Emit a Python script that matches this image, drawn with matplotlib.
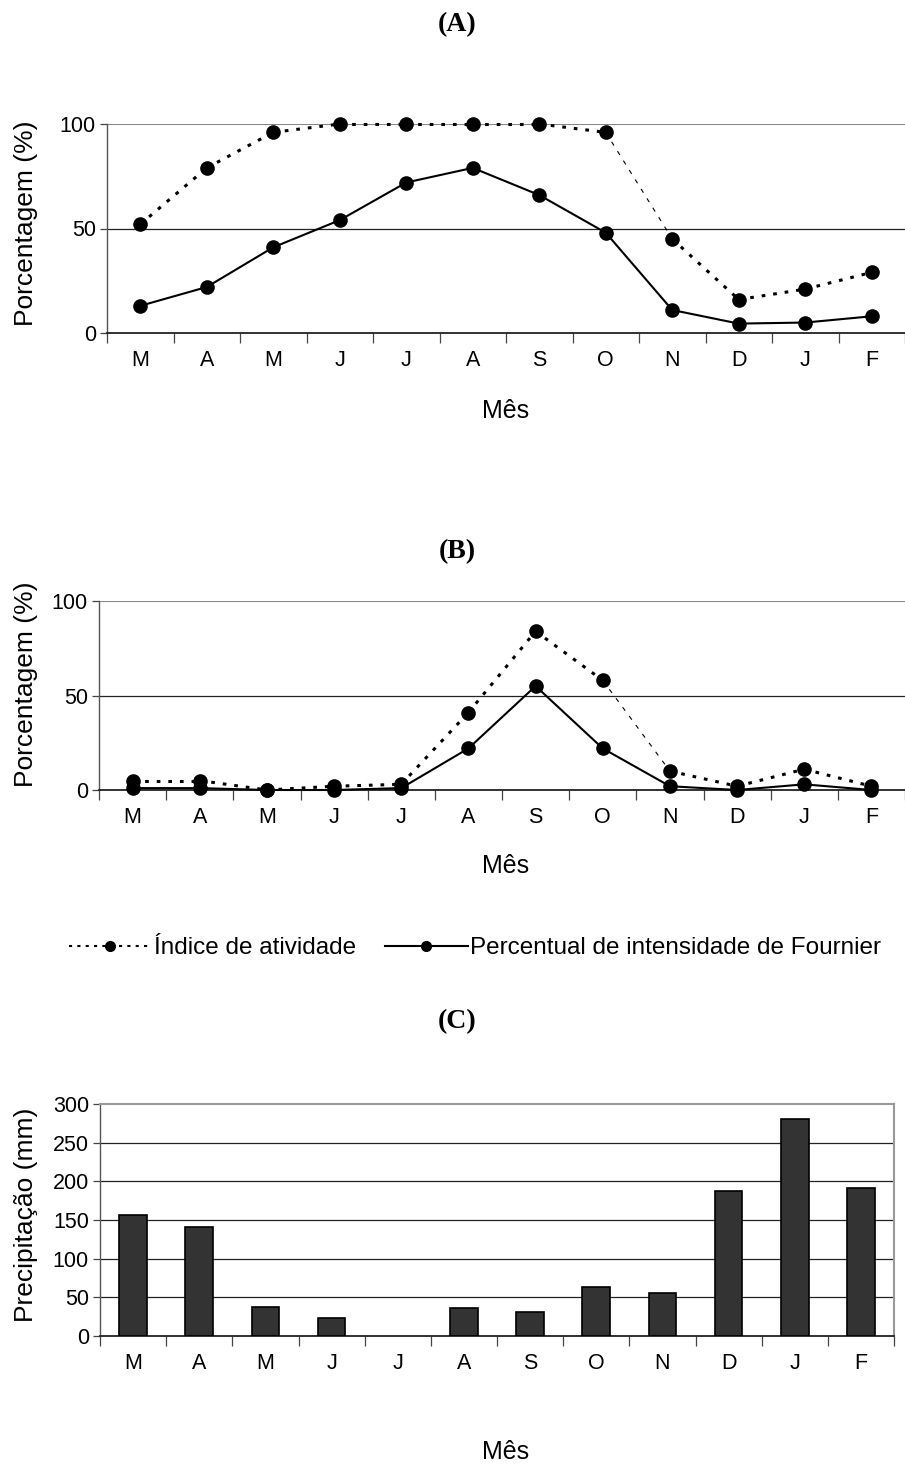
import matplotlib
matplotlib.use("Agg")
import matplotlib.pyplot as plt
from matplotlib.lines import Line2D

plt.rcParams['font.family'] = ['Liberation Sans', 'DejaVu Sans']

# ---- data ----
meses = ["M", "A", "M", "J", "J", "A", "S", "O", "N", "D", "J", "F"]

# (A)
indice_a = [52, 79, 96, 100, 100, 100, 100, 96, 45, 16, 21, 29]
fournier_a = [13, 22, 41, 54, 72, 79, 66, 48, 11, 4.5, 5, 8]

# (B)
indice_b = [5, 5, 0, 2, 3, 41, 84, 58, 10, 2, 11, 2]
fournier_b = [1, 1, 0, 0, 1, 22, 55, 22, 2, 0, 3, 0]

# (C)
precipitacao = [156, 141, 38, 23, 0, 36, 31, 63, 56, 187, 280, 192]

W, H = 905, 1466
fig = plt.figure(figsize=(W / 100, H / 100), dpi=100)

TICK_FS = 15.5
LABEL_FS = 19
MES_FS = 18
TITLE_FS = 20


def px_axes(left, top, right, bottom):
    return fig.add_axes([left / W, 1 - bottom / H, (right - left) / W, (bottom - top) / H])


def style_axes(ax, yticks, ymax, box=False):
    x = range(len(meses))
    ax.set_xlim(-0.5, len(meses) - 0.5)
    ax.set_ylim(0, ymax)
    ax.set_xticks(list(x))
    ax.set_xticklabels(meses, fontsize=TICK_FS)
    ax.set_xticks([i - 0.5 for i in range(len(meses) + 1)], minor=True)
    ax.tick_params(axis='x', which='major', length=0, pad=12)
    ax.tick_params(axis='x', which='minor', length=7, width=0.9, color='#444444')
    ax.set_yticks(yticks)
    ax.tick_params(axis='y', length=5, width=0.9, labelsize=TICK_FS, pad=3, color='#444444')
    for g in yticks[1:]:
        if g == ymax and not box:
            ax.axhline(g, color='#888888', lw=1.5, zorder=1)
        elif g != ymax:
            ax.axhline(g, color='#222222', lw=0.9, zorder=1)
    ax.spines['bottom'].set_color('#222222')
    ax.spines['bottom'].set_linewidth(1.3)
    ax.spines['left'].set_color('#555555')
    ax.spines['left'].set_linewidth(1.0)
    if box:
        ax.spines['top'].set_color('#999999')
        ax.spines['right'].set_color('#999999')
        ax.spines['top'].set_linewidth(1.5)
        ax.spines['right'].set_linewidth(1.5)
    else:
        ax.spines['top'].set_visible(False)
        ax.spines['right'].set_visible(False)


def draw_lines(ax, indice, fournier, thin):
    x = list(range(len(meses)))
    for i in range(len(x) - 1):
        if i in thin:
            ax.plot(x[i:i + 2], indice[i:i + 2], color='black', lw=0.8,
                    linestyle=(0, (4, 6)), zorder=3, clip_on=False)
        else:
            ax.plot(x[i:i + 2], indice[i:i + 2], color='black', lw=2.2,
                    linestyle=(0, (1.2, 2.6)), zorder=3, clip_on=False)
    ax.plot(x, indice, linestyle='none', marker='o', ms=9.5, color='black',
            zorder=4, clip_on=False)
    ax.plot(x, fournier, color='black', lw=1.5, marker='o', ms=9.5,
            zorder=5, clip_on=False)


def panel_title(text, y):
    fig.text(457 / W, 1 - y / H, text, ha='center', va='center', fontsize=TITLE_FS,
             fontweight='bold', family='Liberation Serif')


def ylabel(text, y):
    fig.text(26 / W, 1 - y / H, text, rotation=90, ha='center', va='center',
             fontsize=LABEL_FS)


def xlabel(y):
    fig.text(506 / W, 1 - y / H, "Mês", ha='center', va='center', fontsize=MES_FS)


# ---- (A) ----
panel_title("(A)", 25)
ax_a = px_axes(107, 124, 905, 333)
style_axes(ax_a, [0, 50, 100], 100)
draw_lines(ax_a, indice_a, fournier_a, thin={7})
ylabel("Porcentagem (%)", 223)
xlabel(411)

# ---- (B) ----
panel_title("(B)", 552)
ax_b = px_axes(99, 601, 905, 790)
style_axes(ax_b, [0, 50, 100], 100)
draw_lines(ax_b, indice_b, fournier_b, thin={7})
ylabel("Porcentagem (%)", 684)
xlabel(866)

# legend
handles = [
    Line2D([], [], color='black', lw=1.5, linestyle=(0, (1.5, 2.5)), marker='o',
           ms=7),
    Line2D([], [], color='black', lw=1.5, marker='o', ms=7),
]
fig.legend(handles, ["Índice de atividade", "Percentual de intensidade de Fournier"],
           loc='center', bbox_to_anchor=(475 / W, 1 - 948 / H), ncol=2,
           frameon=False, fontsize=17.5, handlelength=3.4, handletextpad=0.1,
           columnspacing=1.2)

# ---- (C) ----
panel_title("(C)", 1022)
ax_c = px_axes(100, 1104, 894, 1336)
style_axes(ax_c, [0, 50, 100, 150, 200, 250, 300], 300, box=True)
ax_c.bar(range(len(meses)), precipitacao, width=0.42, color='#333333',
         edgecolor='black', linewidth=[1.2 if v > 0 else 0 for v in precipitacao],
         zorder=3)
ylabel("Precipitação (mm)", 1215)
xlabel(1452)

fig.savefig("out.png", dpi=100)
